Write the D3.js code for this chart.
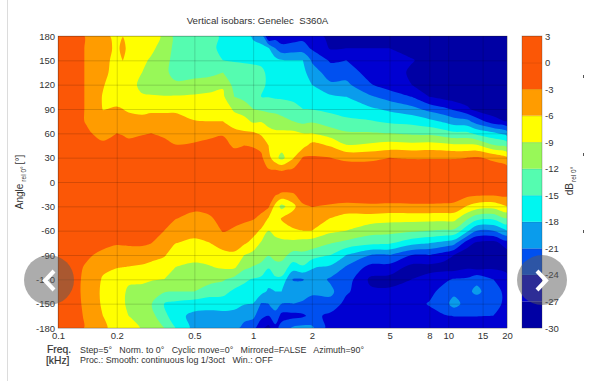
<!DOCTYPE html>
<html>
<head>
<meta charset="utf-8">
<script src="https://cdn.jsdelivr.net/npm/d3@7/dist/d3.min.js"></script>
<style>
html,body{margin:0;padding:0;background:#fff}
svg{display:block;font-family:"Liberation Sans",Arial,sans-serif}
text{fill:#333;white-space:pre}
</style>
</head>
<body>
<svg id="chart" width="594" height="381"></svg>
<script>
const titleText = "Vertical isobars: Genelec  S360A";
const freqTicks = [0.1,0.2,0.5,1,2,5,8,10,15,20];
const angleTicks = [180,150,120,90,60,30,0,-30,-60,-90,-120,-150,-180];
const barTicks = [3,0,-3,-6,-9,-12,-15,-18,-21,-24,-27,-30];
const bandLevels = [-27,-24,-21,-18,-15,-12,-9,-6,-3];
const bandColors = ["#0000d2","#0050f0","#0a9cec","#00f6f0","#55fcb0","#98f858","#ffff00","#ff9c00","#fb5706"];
const floorColor = "#0000a4";
const angles = [180,165,150,135,120,105,90,75,60,45,30,15,0,-15,-30,-45,-60,-75,-90,-105,-120,-135,-150,-165,-180];
const freqs = [0.1,0.12,0.14,0.17,0.2,0.215,0.23,0.27,0.3,0.35,0.4,0.5,0.6,0.7,0.8,0.9,1,1.1,1.2,1.3,1.4,1.6,1.8,2,2.5,3,4,5,6.5,8,9.5,10.7,12.5,14,17,20];
// dB at each angle (180 to -180), one line per frequency
const dbByFreq = [
[-1,-1,-1,-1,-1,-1,-1,-1,-1,-1,-.5,-.3,0,-.3,-.5,-1,-1,-1,-1,-1,-1,-1,-1,-1,-1],
[-2,-2,-2,-2,-2,-2,-2,-2,-1.5,-1,-.6,-.3,0,-.3,-.6,-1,-1.3,-1.6,-2,-2.2,-2.2,-2.3,-2.4,-2.5,-2.6],
[-3.2,-3.2,-3.2,-3.2,-3.2,-3.2,-3.2,-3.2,-2.6,-1.5,-.8,-.4,0,-.4,-.8,-1,-1.5,-2,-2.6,-3.3,-3.6,-3.6,-3.4,-3.2,-3.1],
[-5,-5,-5,-5,-5.8,-6.2,-6.1,-5,-3.8,-2.5,-1,-.5,0,-.4,-.8,-.9,-1,-2.3,-3.6,-5.4,-6.3,-6.6,-6.5,-6,-5.5],
[-7,-6.5,-7,-7.5,-7.5,-6.8,-5.8,-4.5,-3,-2,-1,-.5,0,-.4,-.8,-1,-1.5,-2.7,-4.3,-5.9,-7,-7.5,-7.6,-7.4,-7],
[-6.05,-5.4,-5.95,-7.7,-7.8,-7,-6,-4.7,-3.2,-2.1,-1,-.5,0,-.4,-.8,-1,-1.5,-2.6,-4.4,-6,-7.7,-8.5,-8.6,-8.2,-7.5],
[-7.2,-6.6,-7.4,-8,-8.2,-7.3,-6.4,-5,-3.5,-2.3,-1,-.5,0,-.4,-.8,-1,-1.5,-2.5,-4.5,-6.1,-8.5,-9.5,-9.6,-9,-8],
[-7.5,-7.8,-8.5,-9,-9.5,-8.8,-6.7,-5.2,-3.2,-2,-1,-.5,0,-.4,-.8,-1,-1.3,-2.5,-4.5,-6.4,-8.4,-10,-10.5,-10,-9.2],
[-7.8,-8.5,-9.3,-10,-10,-8.8,-6.5,-5,-3,-2,-1,-.5,0,-.4,-.8,-1,-1.5,-2.9,-4.8,-7,-8.7,-11,-11.8,-11,-10],
[-9.5,-10,-10.5,-11.3,-11,-8.8,-6.5,-5,-3.5,-2.2,-1,-.5,0,-.5,-1,-1.8,-3,-4.5,-5.7,-7.5,-9,-11.7,-15,-14,-12],
[-13,-13,-13.5,-13,-11.5,-8.7,-6.5,-5,-4,-2.9,-1.8,-.8,0,-.8,-1.8,-2.9,-4.5,-5.9,-7.5,-9,-10.5,-12,-15.7,-17,-15],
[-13.5,-13.5,-14,-13,-11,-8.5,-7.3,-5.9,-4.2,-2.6,-1.5,-.7,0,-.7,-2.3,-3.9,-5,-6.6,-8,-9.6,-10.8,-12,-16.5,-18.8,-19],
[-14,-14.5,-14.5,-12.8,-10.5,-8.2,-7,-6,-3.5,-2.4,-1.4,-.7,0,-.9,-2.2,-3.3,-4.6,-6,-7.7,-9.2,-11,-13.5,-16.8,-19,-20],
[-15.5,-15.5,-15,-12,-9.3,-8.5,-7,-6,-3.2,-2.3,-1.3,-.7,0,-.7,-1.4,-2.2,-2.8,-4.6,-7,-8.6,-11.6,-14,-16.5,-19,-20],
[-16,-16,-15.2,-13.7,-13,-12,-9.5,-7.5,-5,-3.3,-2,-1,0,-.7,-1.3,-2.3,-3.3,-4.5,-6.6,-8.5,-13,-15.6,-17,-19,-20],
[-16.7,-16.2,-15.3,-14,-13.5,-12.8,-10.5,-8,-5.5,-3,-2,-1,0,-.7,-1.3,-2.5,-3.9,-5.5,-9,-11.3,-14.5,-16,-17.8,-20,-22],
[-18.5,-17,-15.5,-14,-13.8,-13.4,-12,-9.5,-5.6,-3.2,-2,-1,0,-.8,-1.8,-2.8,-4.8,-7,-10,-12.2,-15.2,-16.5,-18,-20.3,-23],
[-19,-17.5,-15.5,-14.5,-14.6,-15,-12.5,-9.2,-6.5,-3.7,-2.5,-1,0,-1,-2.2,-3.6,-6.5,-9.3,-11,-12.7,-15.8,-17,-21.2,-23,-26.5],
[-28,-17.8,-16,-15.5,-15.3,-15.1,-12.8,-10,-8,-6,-5,-2.8,0,-1.2,-2.6,-6.3,-9,-10.5,-11.8,-14.8,-16.8,-18.5,-21,-24,-28],
[-25.5,-21,-17,-16,-15.8,-15.4,-13,-10.3,-8.5,-7.7,-8,-3,0,-2.5,-7,-8,-8.4,-9.6,-11,-13,-15.7,-18,-20,-21.8,-25],
[-26,-23,-17.8,-16.5,-16,-15.4,-13.3,-11,-8.3,-7.7,-10,-3.3,0,-3.5,-10,-5.7,-7.5,-9.7,-11,-13,-15.7,-18,-21,-25,-23],
[-25.5,-22.7,-18,-16.7,-16.2,-15.7,-14,-12,-8.2,-7,-6.3,-2.6,0,-3.3,-7,-4.2,-6.5,-9.8,-13,-16.5,-21.2,-19.5,-21,-25,-20.5],
[-25,-22.7,-18,-17,-16.7,-16.2,-15,-12.8,-9,-7,-2.8,-1.5,0,-1.7,-3.4,-4.5,-6,-10.2,-12.7,-15.4,-21.2,-19.5,-21.5,-24.5,-20],
[-25.5,-24.4,-21.3,-19.8,-18,-16.8,-15.1,-12.4,-9,-5,-2.7,-1.5,0,-1.7,-2.9,-4.6,-6,-10.5,-13.4,-17.8,-19,-20.5,-22,-23,-20.5],
[-28,-27.3,-24.5,-22.2,-20.6,-17.5,-15.8,-13.5,-10.6,-6.3,-3,-1.5,0,-1.5,-3.3,-6.1,-8.3,-11.8,-15,-18.6,-21.5,-20.3,-22,-24.8,-25.5],
[-29,-27,-24,-22.3,-20.3,-18,-16.5,-14.3,-11.6,-8.8,-3.6,-1.5,0,-1.5,-3.6,-7.5,-9,-12.8,-18,-21.3,-22.5,-23.5,-25,-26,-26],
[-29,-27,-26,-25.3,-23.8,-20.6,-17.5,-14.8,-11.7,-8.4,-3.6,-1.5,0,-1.5,-3.4,-7.5,-10.8,-14,-21,-25,-27.6,-26.5,-25.8,-26,-26.5],
[-29,-27,-25.7,-25.5,-25.5,-22.2,-18.6,-15.6,-12,-7.7,-3,-1.5,0,-1.5,-3.5,-8,-11,-14.5,-21,-25.2,-28,-26.5,-25.5,-25.8,-26],
[-29,-28,-26.8,-27.5,-27,-24,-20,-16,-12.5,-8,-3.2,-1.5,0,-1.5,-3.4,-8,-11.5,-16.8,-24,-28,-27,-25.5,-25,-25.5,-26],
[-29,-28.5,-28,-28.5,-28.3,-27,-22,-17.2,-12.7,-7.7,-3.2,-1.5,0,-1.5,-3.4,-8,-12,-17.8,-24,-28,-26,-24.8,-23.8,-24.8,-26.5],
[-29,-27.9,-27.9,-29,-29,-28,-23.3,-18.5,-13.5,-8,-3.2,-1.5,0,-1.5,-3.5,-8,-12.3,-18.8,-25.5,-28.3,-24.6,-23,-22.5,-24.2,-26],
[-29,-27,-27,-29,-29,-28.5,-24.5,-19.7,-14.3,-8.4,-3.2,-1.5,0,-1.5,-3.7,-8,-12.5,-19.8,-27,-28.5,-23.8,-22,-19.6,-23.9,-26],
[-29.5,-29.5,-29.5,-29.5,-29.5,-28.5,-26.5,-20.2,-14.3,-8.4,-3,-1.5,0,-2,-6.2,-11.5,-17.3,-25.5,-29,-27.5,-23.5,-21.6,-22.5,-23.9,-26],
[-29.5,-29.5,-29.5,-29.5,-29.5,-30,-28,-22.5,-15.8,-8.5,-2.7,-1.5,0,-2.3,-7.4,-14,-21,-27.5,-29,-28.2,-21.6,-20.4,-22.6,-23.9,-26],
[-29.8,-29.8,-29.8,-29.8,-29.8,-29.8,-29,-25.7,-17.3,-11.7,-3.6,-1.6,0,-2.4,-7.8,-14.5,-21,-28,-29,-27.6,-24,-22.5,-22.5,-24,-26],
[-30,-30,-30,-30,-30,-30,-29.5,-27.3,-19.5,-13,-5.6,-1.6,0,-2.3,-6,-12.2,-18,-25.5,-28.5,-28,-26,-25,-25,-25.5,-26]
];

const svg = d3.select("#chart");
const L=58,R=507,T=36,B=328,BL=522,BR=542;
const x = d3.scaleLog().domain([0.1,20]).range([L,R]);
const y = d3.scaleLinear().domain([180,-180]).range([T,B]);
const yBar = d3.scaleLinear().domain([3,-30]).range([T,B]);

// grid index -> data value
const n = freqs.length, m = angles.length;
const iToLogF = d3.scaleLinear().domain(d3.range(n)).range(freqs.map(Math.log10)).clamp(true);
const jToAngle = d3.scaleLinear().domain(d3.range(m)).range(angles).clamp(true);
const flat = [];
for (let j=0;j<m;j++) for (let i=0;i<n;i++) flat.push(dbByFreq[i][j]);
const contours = d3.contours().size([n,m]).thresholds(bandLevels)(flat);
const ringLine = d3.line().curve(d3.curveCatmullRomClosed.alpha(0.5));
const ringPath = ring => ringLine(ring.slice(0,-1).map(([a,b]) => [x(Math.pow(10,iToLogF(a-0.5))), y(jToAngle(b-0.5))]));
const contourPath = c => c.coordinates.map(poly => poly.map(ringPath).join("")).join("");

svg.append("rect").attr("x",7).attr("y",0).attr("width",1).attr("height",381).attr("fill","#dcdcdc");

svg.append("clipPath").attr("id","plotClip").append("rect").attr("x",L).attr("y",T).attr("width",R-L).attr("height",B-T);
const plot = svg.append("g").attr("clip-path","url(#plotClip)");
const plotInner = plot.append("g").style("filter","blur(0.5px)");
plotInner.append("rect").attr("x",L-3).attr("y",T-3).attr("width",R-L+6).attr("height",B-T+6).attr("fill",floorColor);
plotInner.selectAll("path.band").data(contours).join("path").attr("class","band")
  .attr("d",contourPath).attr("fill-rule","evenodd").attr("fill",(d,i)=>bandColors[i]);

// axes with grid lines
const xAxis = svg.append("g").attr("transform",`translate(0,${B})`)
  .call(d3.axisBottom(x).tickValues(freqTicks).tickFormat(d3.format("~g")).tickSize(-(B-T)).tickPadding(4));
const yAxis = svg.append("g").attr("transform",`translate(${L},0)`)
  .call(d3.axisLeft(y).tickValues(angleTicks).tickSize(-(R-L)).tickPadding(3).tickFormat(d=>String(d)));
[xAxis,yAxis].forEach(a=>{
  a.select(".domain").remove();
  a.selectAll("line").attr("stroke","#000").attr("stroke-opacity",0.22).attr("stroke-width",0.7);
  a.selectAll("text").attr("font-size",9.5).attr("fill","#333");
});
xAxis.selectAll("text").attr("y",4);
svg.append("rect").attr("x",L).attr("y",T).attr("width",R-L).attr("height",B-T)
  .attr("fill","none").attr("stroke","#333").attr("stroke-opacity",0.3).attr("stroke-width",0.7);

// colour bar
const barBands = [{t:-30,c:floorColor}].concat(bandLevels.map((t,i)=>({t,c:bandColors[i]})));
svg.selectAll("rect.bar").data(barBands).join("rect").attr("class","bar")
  .attr("x",BL).attr("width",BR-BL)
  .attr("y",d=>yBar(d.t===-3?3:d.t+3)).attr("height",d=>yBar(d.t)-yBar(d.t===-3?3:d.t+3))
  .attr("fill",d=>d.c);
const barAxis = svg.append("g").attr("transform",`translate(${BR},0)`)
  .call(d3.axisRight(yBar).tickValues(barTicks).tickSize(-(BR-BL)).tickPadding(3).tickFormat(d=>String(d)));
barAxis.select(".domain").remove();
barAxis.selectAll("line").attr("stroke","#000").attr("stroke-opacity",0.12).attr("stroke-width",0.7);
barAxis.selectAll("text").attr("font-size",9.5).attr("fill","#333");
svg.append("rect").attr("x",BL).attr("y",T).attr("width",BR-BL).attr("height",B-T)
  .attr("fill","none").attr("stroke","#333").attr("stroke-opacity",0.4).attr("stroke-width",0.7);

// texts
svg.append("text").attr("x",257.5).attr("y",24).attr("text-anchor","middle").attr("font-size",9.7).text(titleText);

const yl = svg.append("text").attr("transform","translate(23,182) rotate(-90)").attr("text-anchor","middle").attr("font-size",10);
yl.append("tspan").text("Angle");
yl.append("tspan").attr("dy",2.5).attr("dx",2).attr("font-size",6.5).text("rel 0°");
yl.append("tspan").attr("dy",-2.5).attr("dx",2).text("[°]");

const cl = svg.append("text").attr("transform","translate(573,181) rotate(-90)").attr("text-anchor","middle").attr("font-size",10);
cl.append("tspan").text("dB");
cl.append("tspan").attr("dy",2.5).attr("dx",1).attr("font-size",6.5).text("rel 0°");

svg.append("text").attr("x",47).attr("y",353).attr("font-size",10.3).attr("stroke","#333").attr("stroke-width",0.2).text("Freq.");
svg.append("text").attr("x",46).attr("y",364).attr("font-size",10.3).attr("stroke","#333").attr("stroke-width",0.2).text("[kHz]");
svg.append("text").attr("x",80).attr("y",353).attr("font-size",8.9)
  .text("Step=5°   Norm. to 0°   Cyclic move=0°   Mirrored=FALSE   Azimuth=90°");
svg.append("text").attr("x",80).attr("y",363).attr("font-size",8.9)
  .text("Proc.: Smooth: continuous log 1/3oct   Win.: OFF");

// carousel overlay
const nav = [{cx:49,cy:280,r:25,pts:[[54,271],[45,280.5],[54,290]]},{cx:542,cy:280,r:25,pts:[[537,271],[546,280.5],[537,290]]}];
nav.forEach(b=>{
  svg.append("circle").attr("cx",b.cx).attr("cy",b.cy).attr("r",b.r).attr("fill","#5a5a5a").attr("fill-opacity",0.5);
  svg.append("path").attr("d",d3.line()(b.pts)).attr("fill","none").attr("stroke","#fff").attr("stroke-width",4);
});
[75,153,230].forEach(py=>svg.append("rect").attr("x",583).attr("y",py).attr("width",1).attr("height",3).attr("fill","#555"));
</script>
</body>
</html>
